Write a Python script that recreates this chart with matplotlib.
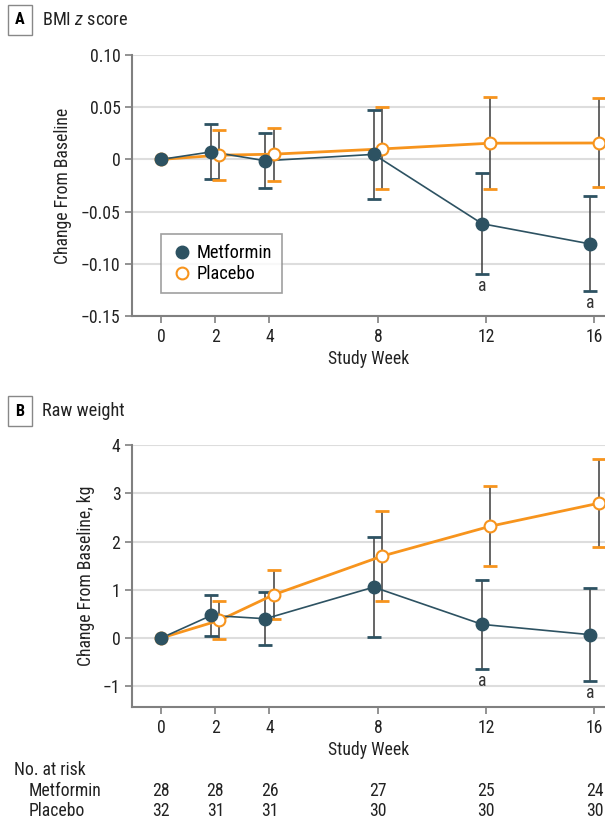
import matplotlib.pyplot as plt
import matplotlib.transforms as mtrans
from matplotlib import font_manager
import numpy as np

# pick a narrow-ish font from what is installed
names = {f.name for f in font_manager.fontManager.ttflist}
fam = 'DejaVu Sans'
for cand in ['Liberation Sans Narrow', 'DejaVu Sans Condensed', 'Roboto Condensed', 'Lato']:
    if cand in names:
        fam = cand
        break
plt.rcParams['font.family'] = [fam, 'DejaVu Sans']
plt.rcParams['mathtext.fontset'] = 'custom'
plt.rcParams['mathtext.it'] = fam + ':italic'
plt.rcParams['mathtext.rm'] = fam

# Data
weeks = np.array([0, 2, 4, 8, 12, 16])
tick_labels = ['0', '2', '4', '8', '12', '16']

# Panel A: BMI z score
bmi_met = [0, 0.0072, -0.0013, 0.0048, -0.0616, -0.081]
bmi_met_lo = [0, -0.019, -0.0276, -0.0378, -0.1095, -0.126]
bmi_met_hi = [0, 0.034, 0.025, 0.047, -0.013, -0.0355]
bmi_pla = [0, 0.004, 0.005, 0.010, 0.0155, 0.0157]
bmi_pla_lo = [0, -0.020, -0.0204, -0.0286, -0.0288, -0.0266]
bmi_pla_hi = [0, 0.0286, 0.030, 0.0505, 0.0593, 0.0587]

# Panel B: raw weight (kg)
wt_met = [0, 0.469, 0.40, 1.055, 0.283, 0.069]
wt_met_lo = [0, 0.048, -0.152, 0.028, -0.641, -0.883]
wt_met_hi = [0, 0.897, 0.95, 2.09, 1.207, 1.028]
wt_pla = [0, 0.366, 0.897, 1.697, 2.317, 2.793]
wt_pla_lo = [0, -0.02, 0.386, 0.759, 1.497, 1.897]
wt_pla_hi = [0, 0.766, 1.42, 2.64, 3.159, 3.717]

sig_weeks = [12, 16]  # marked "a"

n_met = [28, 28, 26, 27, 25, 24]
n_pla = [32, 31, 31, 30, 30, 30]

teal = '#2d5262'
orange = '#f7941d'
bar_col = '#3c3c3c'
spine_col = '#808080'
txt = '#222222'
fs = 12.7

fig = plt.figure(figsize=(6.05, 8.38), dpi=100)
axA = fig.add_axes([0.2185, 0.6229, 0.782, 0.3115])
axB = fig.add_axes([0.2185, 0.1563, 0.782, 0.3126])


def draw(ax, met, mlo, mhi, pla, plo, phi):
    met, mlo, mhi = map(np.array, (met, mlo, mhi))
    pla, plo, phi = map(np.array, (pla, plo, phi))
    off = np.where(weeks == 0, 0, 0.15)
    xm = weeks - off
    xp = weeks + off
    ax.plot(xp, pla, color=orange, lw=2, zorder=3)
    ax.plot(xm, met, color=teal, lw=1.2, zorder=3)
    sel = weeks > 0
    for x, y, lo, hi, c in [(xm, met, mlo, mhi, teal), (xp, pla, plo, phi, orange)]:
        eb = ax.errorbar(x[sel], y[sel], yerr=[y[sel] - lo[sel], hi[sel] - y[sel]],
                         fmt='none', ecolor=bar_col, elinewidth=1.1,
                         capsize=4.7, capthick=2, zorder=2)
        for cap in eb[1]:
            cap.set_markeredgecolor(c)
            cap.set_color(c)
    ax.plot(xp, pla, 'o', ms=8.5, mfc='white', mec=orange, mew=1.5, zorder=5,
            label='Placebo')
    ax.plot(xm, met, 'o', ms=9, color=teal, zorder=6, label='Metformin')
    for w in sig_weeks:
        i = list(weeks).index(w)
        ax.annotate('a', (xm[i], mlo[i]), xytext=(0, -9), textcoords='offset points',
                    ha='center', va='center', fontsize=fs, color='#333333')
    ax.set_xlim(-1.07, 16.4)
    ax.set_xticks(weeks)
    ax.set_xticklabels(tick_labels)
    for s in ['top', 'right']:
        ax.spines[s].set_visible(False)
    for s in ['left', 'bottom']:
        ax.spines[s].set_color(spine_col)
        ax.spines[s].set_linewidth(1.5)
    ax.tick_params(colors=spine_col, labelcolor=txt, labelsize=fs,
                   length=5, width=1.2)
    ax.grid(axis='y', color='#dddddd', lw=1.5, zorder=0)
    ax.set_axisbelow(True)
    ax.set_xlabel('Study Week', fontsize=fs, color=txt, labelpad=3)


draw(axA, bmi_met, bmi_met_lo, bmi_met_hi, bmi_pla, bmi_pla_lo, bmi_pla_hi)
axA.set_ylim(-0.15, 0.10)
axA.set_yticks([-0.15, -0.10, -0.05, 0, 0.05, 0.10])
axA.set_yticklabels(['−0.15', '−0.10', '−0.05', '0', '0.05', '0.10'])
axA.set_ylabel('Change From Baseline', fontsize=fs, color=txt, labelpad=6)
h, l = axA.get_legend_handles_labels()
leg = axA.legend(h[::-1], l[::-1], loc='lower left', bbox_to_anchor=(0.06, 0.088),
                 borderaxespad=0, fontsize=fs + 0.5, frameon=True, fancybox=False,
                 handletextpad=0.2, borderpad=0.55, labelspacing=0.15,
                 handlelength=1.2)
leg.get_frame().set_edgecolor('#888888')
leg.get_frame().set_linewidth(1.2)

draw(axB, wt_met, wt_met_lo, wt_met_hi, wt_pla, wt_pla_lo, wt_pla_hi)
axB.set_ylim(-1.43, 4)
axB.set_yticks([-1, 0, 1, 2, 3, 4])
axB.set_yticklabels(['−1', '0', '1', '2', '3', '4'])
axB.set_ylabel('Change From Baseline, kg', fontsize=fs, color=txt, labelpad=6)

# panel headers
box = dict(boxstyle='square,pad=0.45', fc='white', ec='#888888', lw=1)
fig.text(20 / 605, 1 - 20 / 838, 'A', fontsize=fs - 1, fontweight='bold', ha='center',
         va='center', bbox=box)
fig.text(42 / 605, 1 - 20 / 838, r'BMI $\mathit{z}$ score', fontsize=fs + 0.5,
         ha='left', va='center', color=txt)
fig.text(20 / 605, 1 - 411 / 838, 'B', fontsize=fs - 1, fontweight='bold', ha='center',
         va='center', bbox=box)
fig.text(42 / 605, 1 - 411 / 838, 'Raw weight', fontsize=fs + 0.5,
         ha='left', va='center', color=txt)

# number at risk table
tr = mtrans.blended_transform_factory(axB.transData, fig.transFigure)
fig.text(14 / 605, 1 - 770 / 838, 'No. at risk', fontsize=fs, va='center', color=txt)
fig.text(29 / 605, 1 - 791 / 838, 'Metformin', fontsize=fs, va='center', color=txt)
fig.text(29 / 605, 1 - 811 / 838, 'Placebo', fontsize=fs, va='center', color=txt)
for w, a, b in zip(weeks, n_met, n_pla):
    fig.text(w, 1 - 791 / 838, str(a), transform=tr, ha='center', va='center',
             fontsize=fs, color=txt)
    fig.text(w, 1 - 811 / 838, str(b), transform=tr, ha='center', va='center',
             fontsize=fs, color=txt)

fig.savefig('out.png', dpi=100)
